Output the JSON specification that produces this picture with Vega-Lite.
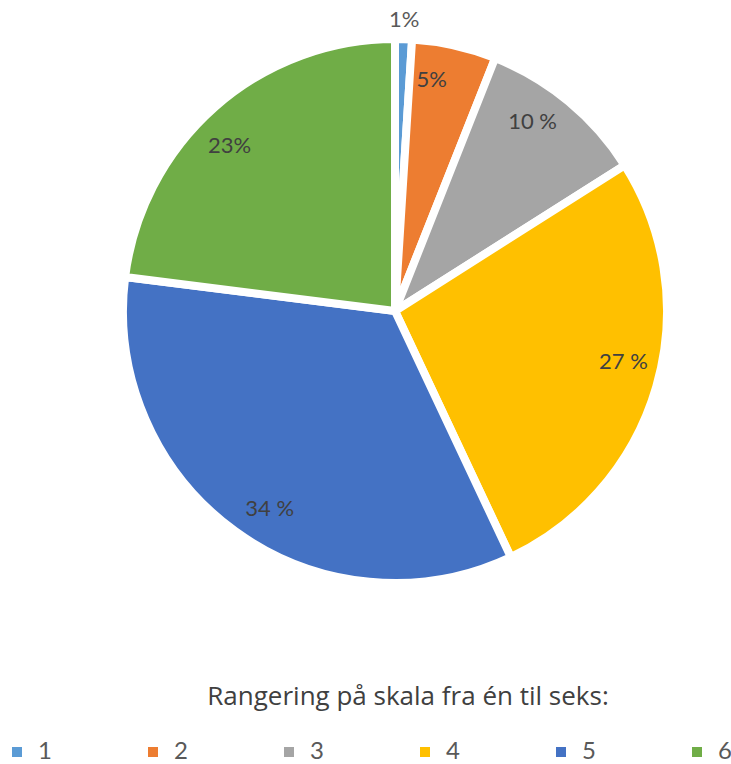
{
  "$schema": "https://vega.github.io/schema/vega-lite/v6.json",
  "width": 536,
  "height": 536,
  "autosize": {"type": "none"},
  "padding": {"left": 127, "top": 43, "right": 68, "bottom": 185},
  "background": "white",
  "config": {"view": {"stroke": null}, "font": "Lato"},
  "title": {
    "text": "Rangering på skala fra én til seks:",
    "orient": "bottom",
    "anchor": "middle",
    "offset": -80,
    "dx": 13,
    "fontSize": 26,
    "fontWeight": "normal",
    "color": "#404040",
    "font": "Open Sans"
  },
  "data": {
    "values": [
      {"rang": "1", "andel": 1, "label": "1%"},
      {"rang": "2", "andel": 5, "label": "5%"},
      {"rang": "3", "andel": 10, "label": "10 %"},
      {"rang": "4", "andel": 27, "label": "27 %"},
      {"rang": "5", "andel": 34, "label": "34 %"},
      {"rang": "6", "andel": 23, "label": "23%"}
    ]
  },
  "encoding": {
    "theta": {"field": "andel", "type": "quantitative", "stack": true},
    "order": {"field": "rang", "type": "ordinal"}
  },
  "layer": [
    {
      "mark": {"type": "arc", "radius": 272, "stroke": "white", "strokeWidth": 8},
      "encoding": {
        "color": {
          "field": "rang",
          "type": "nominal",
          "scale": {
            "domain": ["1", "2", "3", "4", "5", "6"],
            "range": ["#5B9BD5", "#ED7D31", "#A5A5A5", "#FFC000", "#4472C4", "#70AD47"]
          },
          "legend": {
            "title": null,
            "orient": "none",
            "legendX": -122,
            "legendY": 697,
            "direction": "horizontal",
            "columns": 6,
            "symbolType": "square",
            "symbolSize": 100,
            "symbolStrokeWidth": 0,
            "labelFontSize": 24,
            "labelColor": "#595959",
            "labelFont": "Lato",
            "labelOffset": 9,
            "columnPadding": 89
          }
        }
      }
    },
    {
      "transform": [{"filter": "datum.andel >= 3"}],
      "mark": {"type": "text", "radius": 234, "fontSize": 22, "color": "#404040", "font": "Lato", "align": "center", "baseline": "middle"},
      "encoding": {"text": {"field": "label"}}
    },
    {
      "transform": [{"filter": "datum.andel < 3"}],
      "mark": {"type": "text", "radius": 291, "fontSize": 22, "color": "#595959", "font": "Lato", "align": "center", "baseline": "middle"},
      "encoding": {"text": {"field": "label"}}
    }
  ]
}
